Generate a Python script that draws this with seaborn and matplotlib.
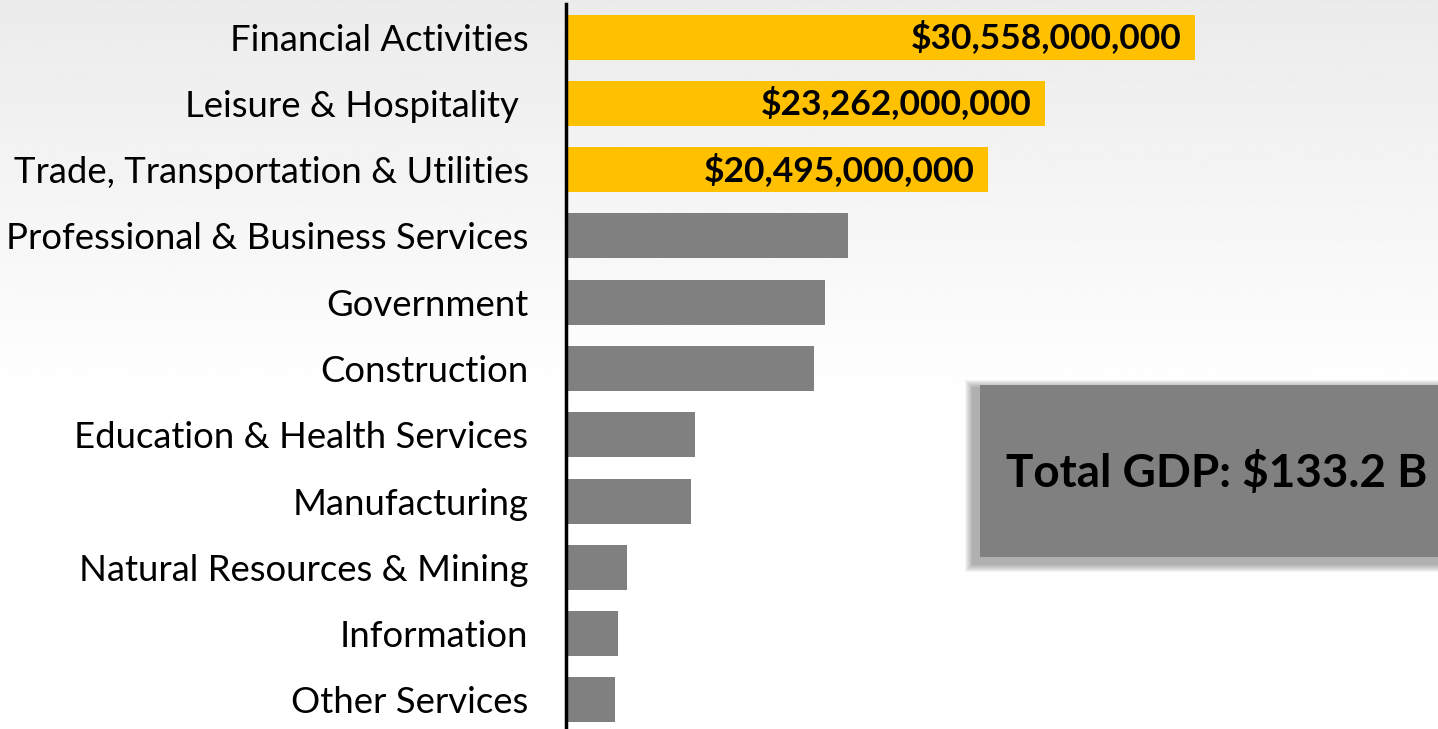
import numpy as np
import pandas as pd
import matplotlib.pyplot as plt
import seaborn as sns
from matplotlib.patches import Rectangle

# GDP by industry (millions of dollars)
industries = ['Financial Activities', 'Leisure & Hospitality ', 'Trade, Transportation & Utilities',
              'Professional & Business Services', 'Government', 'Construction',
              'Education & Health Services', 'Manufacturing', 'Natural Resources & Mining',
              'Information', 'Other Services']
gdp = [30558, 23262, 20495, 13700, 12580, 12050, 6270, 6075, 2965, 2530, 2380]
bar_colors = ['#FFC000'] * 3 + ['#808080'] * 8
total_label = 'Total GDP: $133.2 B'

df = pd.DataFrame({'industry': industries, 'gdp': gdp})

sns.set_style('white')
plt.rcParams['font.family'] = ['Lato', 'DejaVu Sans']

fig = plt.figure(figsize=(14.38, 7.29), dpi=100)

# light gray to white background gradient
bg = fig.add_axes([0, 0, 1, 1], zorder=-10)
grad = np.linspace(0, 1, 256).reshape(-1, 1)
shade = np.clip(grad / 0.55, 0, 1)
bg.imshow(235 + 20 * shade, cmap='gray', vmin=0, vmax=255, aspect='auto',
          extent=[0, 1, 0, 1], origin='upper')
bg.axis('off')

ax = fig.add_axes([566 / 1438, -4 / 729, 872 / 1438, 729 / 729])
ax.patch.set_alpha(0)
sns.barplot(data=df, x='gdp', y='industry', hue='industry', palette=bar_colors,
            legend=False, width=0.68, saturation=1, linewidth=0, ax=ax)
ax.set_xlim(0, 42370)
ax.set_xlabel('')
ax.set_ylabel('')
ax.set_xticks([])
sns.despine(ax=ax, top=True, right=True, bottom=True)
ax.spines['left'].set_color('black')
ax.spines['left'].set_linewidth(2.5)
ax.tick_params(axis='y', length=0, pad=27, labelsize=26.3, labelcolor='black')

for i in range(3):
    ax.text(gdp[i] - 640, i, '${:,}'.format(gdp[i] * 1000000), ha='right', va='center',
            fontsize=25.5, fontweight='bold', color='black')

# total GDP box with soft shadow
for k in range(8, 0, -1):
    fig.patches.append(Rectangle(((973 - k) / 1438, (165 - k) / 729), (480 + 2 * k) / 1438,
                                 (176 + 2 * k) / 729, transform=fig.transFigure,
                                 facecolor='black', edgecolor='none', alpha=0.045, zorder=5))
box = Rectangle((980 / 1438, 172 / 729), 470 / 1438, 172 / 729, transform=fig.transFigure,
                facecolor='#808080', edgecolor='none', zorder=6)
fig.patches.append(box)
fig.text(1217 / 1438, 1 - 473 / 729, total_label, ha='center', va='center',
         fontsize=33, fontweight='bold', color='black', zorder=7)

fig.savefig('out.png', dpi=100)
